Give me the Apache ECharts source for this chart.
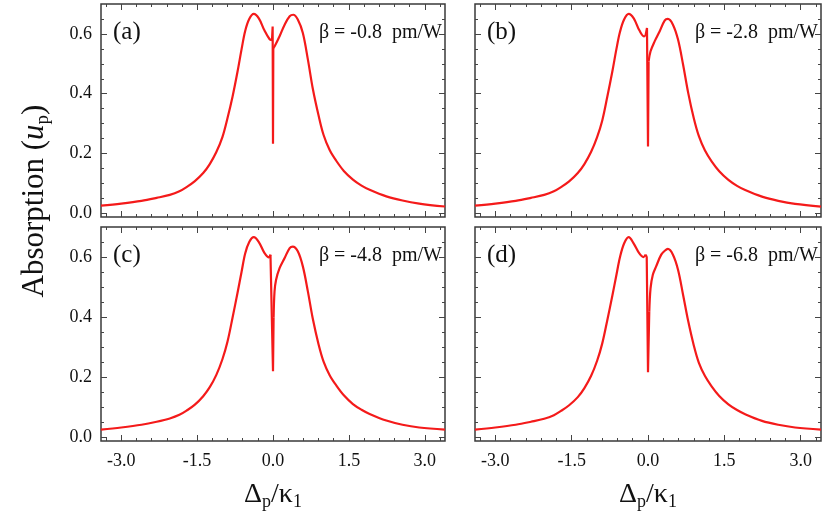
<!DOCTYPE html>
<html>
<head>
<meta charset="utf-8">
<script src="https://cdn.jsdelivr.net/npm/echarts@6/dist/echarts.min.js"></script>
<style>
  html, body { margin: 0; padding: 0; background: #fff; }
  #chart { width: 830px; height: 522px; }
</style>
</head>
<body>
<div id="chart"></div>
<script>
// tick labels
const xTicks = [-3, -1.5, 0, 1.5, 3];
const yTicks = [0, 0.2, 0.4, 0.6];
const xMinor = [-3.3, -2.7, -2.4, -2.1, -1.8, -1.2, -0.9, -0.6, -0.3, 0.3, 0.6, 0.9, 1.2, 1.8, 2.1, 2.4, 2.7, 3.3];
const yMinor = [0.05, 0.1, 0.15, 0.25, 0.3, 0.35, 0.45, 0.5, 0.55, 0.65];

const panelNames = ['(a)', '(b)', '(c)', '(d)'];
const betas = ['β = -0.8  pm/W', 'β = -2.8  pm/W', 'β = -4.8  pm/W', 'β = -6.8  pm/W'];

// (a) beta = -0.8
const xa = [-3.4, -3.0, -2.6, -2.3, -2.04, -1.85, -1.71, -1.55, -1.38, -1.25, -1.12, -1.0, -0.9, -0.8, -0.7, -0.62, -0.55, -0.47, -0.38, -0.28, -0.17, -0.07, -0.02, -0.007, 0, 0.006, 0.03, 0.13, 0.23, 0.33, 0.4, 0.49, 0.59, 0.69, 0.79, 0.9, 1.0, 1.12, 1.25, 1.4, 1.58, 1.75, 1.91, 2.24, 2.56, 2.89, 3.4];
const ya = [0.026, 0.033, 0.042, 0.052, 0.062, 0.074, 0.088, 0.107, 0.135, 0.165, 0.205, 0.255, 0.318, 0.39, 0.475, 0.55, 0.61, 0.65, 0.667, 0.652, 0.612, 0.583, 0.579, 0.625, 0.233, 0.553, 0.558, 0.592, 0.631, 0.659, 0.664, 0.648, 0.603, 0.514, 0.414, 0.328, 0.262, 0.212, 0.176, 0.142, 0.113, 0.093, 0.079, 0.057, 0.043, 0.033, 0.023];

// (b) beta = -2.8
const xb = [-3.4, -3.0, -2.6, -2.3, -2.04, -1.85, -1.71, -1.55, -1.38, -1.25, -1.12, -1.0, -0.9, -0.8, -0.7, -0.62, -0.55, -0.47, -0.38, -0.28, -0.17, -0.08, -0.05, -0.02, 0, 0.012, 0.05, 0.13, 0.23, 0.33, 0.39, 0.49, 0.59, 0.69, 0.79, 0.9, 1.0, 1.12, 1.25, 1.4, 1.58, 1.75, 1.91, 2.24, 2.56, 2.89, 3.4];
const yb = [0.026, 0.033, 0.042, 0.052, 0.062, 0.074, 0.088, 0.107, 0.135, 0.165, 0.205, 0.255, 0.31, 0.39, 0.475, 0.55, 0.607, 0.648, 0.667, 0.652, 0.612, 0.592, 0.593, 0.62, 0.224, 0.508, 0.542, 0.575, 0.609, 0.645, 0.65, 0.631, 0.581, 0.497, 0.403, 0.318, 0.258, 0.21, 0.174, 0.141, 0.112, 0.092, 0.078, 0.056, 0.042, 0.032, 0.023];

// (c) beta = -4.8
const xc = [-3.4, -3.0, -2.6, -2.3, -2.04, -1.85, -1.71, -1.55, -1.38, -1.25, -1.12, -1.0, -0.9, -0.8, -0.7, -0.62, -0.55, -0.47, -0.38, -0.28, -0.17, -0.08, -0.05, -0.02, 0, 0.012, 0.03, 0.06, 0.13, 0.23, 0.33, 0.39, 0.49, 0.59, 0.69, 0.79, 0.9, 1.0, 1.12, 1.25, 1.4, 1.58, 1.75, 1.91, 2.24, 2.56, 2.89, 3.4];
const yc = [0.026, 0.033, 0.042, 0.052, 0.063, 0.075, 0.089, 0.108, 0.137, 0.167, 0.208, 0.26, 0.318, 0.398, 0.482, 0.552, 0.612, 0.65, 0.666, 0.65, 0.614, 0.599, 0.608, 0.613, 0.22, 0.4, 0.485, 0.524, 0.563, 0.597, 0.63, 0.635, 0.619, 0.569, 0.485, 0.392, 0.31, 0.252, 0.207, 0.173, 0.14, 0.111, 0.092, 0.078, 0.056, 0.042, 0.033, 0.026];

// (d) beta = -6.8
const xd = [-3.4, -3.0, -2.6, -2.3, -2.04, -1.85, -1.71, -1.55, -1.38, -1.25, -1.12, -1.0, -0.9, -0.8, -0.7, -0.62, -0.55, -0.47, -0.38, -0.28, -0.17, -0.09, -0.045, -0.025, 0, 0.025, 0.05, 0.095, 0.16, 0.26, 0.33, 0.39, 0.49, 0.59, 0.69, 0.79, 0.9, 1.0, 1.12, 1.25, 1.4, 1.58, 1.75, 1.91, 2.24, 2.56, 2.89, 3.4];
const yd = [0.026, 0.033, 0.042, 0.052, 0.062, 0.074, 0.088, 0.107, 0.134, 0.164, 0.204, 0.255, 0.312, 0.39, 0.472, 0.541, 0.6, 0.645, 0.666, 0.645, 0.612, 0.6, 0.608, 0.6, 0.217, 0.418, 0.496, 0.541, 0.569, 0.608, 0.621, 0.627, 0.608, 0.558, 0.474, 0.387, 0.306, 0.248, 0.204, 0.17, 0.138, 0.11, 0.091, 0.077, 0.055, 0.042, 0.033, 0.026];

const xs = [xa, xb, xc, xd];
const ys = [ya, yb, yc, yd];

const FONT = 'Liberation Serif';
const RED = '#f41a1a';
const grids = [
  { left: 101, top: 4, width: 344, height: 213 },
  { left: 475, top: 4, width: 346, height: 213 },
  { left: 101, top: 227, width: 344, height: 214 },
  { left: 475, top: 227, width: 346, height: 214 }
];

function xAxisDef(gi, pos, ticks, len, labels) {
  return {
    type: 'value', gridIndex: gi, position: pos, min: -3.4, max: 3.4,
    axisLine: { show: false, onZero: false },
    splitLine: { show: false },
    axisTick: { show: true, inside: true, length: len, customValues: ticks, lineStyle: { color: '#444', width: 1 } },
    axisLabel: { show: labels, customValues: xTicks, formatter: v => v.toFixed(1), margin: 11, color: '#111', fontFamily: FONT, fontSize: 18 }
  };
}
function yAxisDef(gi, pos, ticks, len, labels) {
  return {
    type: 'value', gridIndex: gi, position: pos, min: -0.012, max: 0.7,
    axisLine: { show: false, onZero: false },
    splitLine: { show: false },
    axisTick: { show: true, inside: true, length: len, customValues: ticks, lineStyle: { color: '#444', width: 1 } },
    axisLabel: { show: labels, customValues: yTicks, formatter: v => v.toFixed(1), margin: 9, color: '#111', fontFamily: FONT, fontSize: 18 }
  };
}
function lineSeries(xi, yi, pts, smooth) {
  return {
    type: 'line', xAxisIndex: xi, yAxisIndex: yi, data: pts,
    symbol: 'none', smooth: smooth,
    lineStyle: { color: RED, width: 2.2 }, z: 3
  };
}

const xAxes = [], yAxes = [], series = [], graphics = [];
grids.forEach((g, i) => {
  const bottomRow = i >= 2, leftCol = i % 2 === 0;
  const xi = xAxes.length, yi = yAxes.length;
  xAxes.push(xAxisDef(i, 'bottom', xTicks, 6, bottomRow));
  xAxes.push(xAxisDef(i, 'bottom', xMinor, 3, false));
  xAxes.push(xAxisDef(i, 'top', xTicks, 6, false));
  xAxes.push(xAxisDef(i, 'top', xMinor, 3, false));
  yAxes.push(yAxisDef(i, 'left', yTicks, 6, leftCol));
  yAxes.push(yAxisDef(i, 'left', yMinor, 3, false));
  yAxes.push(yAxisDef(i, 'right', yTicks, 6, false));
  yAxes.push(yAxisDef(i, 'right', yMinor, 3, false));

  // smooth broad curve on each side, straight segments through the narrow dip
  const pts = xs[i].map((x, k) => [x, ys[i][k]]);
  const iz = xs[i].indexOf(0);
  series.push(lineSeries(xi, yi, pts.slice(0, iz - 1), 0.35));
  series.push(lineSeries(xi, yi, pts.slice(iz - 2, iz + 2), false));
  series.push(lineSeries(xi, yi, pts.slice(iz + 1), 0.35));

  graphics.push({
    type: 'text', x: g.left + 12, y: g.top + 28,
    style: { text: panelNames[i], fontFamily: FONT, fontSize: 25, fill: '#111', align: 'left', verticalAlign: 'middle' }
  });
  graphics.push({
    type: 'text', x: g.left + g.width - 3, y: g.top + 29,
    style: { text: betas[i], fontFamily: FONT, fontSize: 20, fill: '#111', align: 'right', verticalAlign: 'middle' }
  });
});

// axis titles
[grids[2], grids[3]].forEach(g => {
  graphics.push({
    type: 'text', x: g.left + g.width / 2, y: 495,
    style: {
      text: '{m|Δ}{s|p}{m|/κ}{s|1}',
      align: 'center', verticalAlign: 'middle',
      rich: {
        m: { fontFamily: FONT, fontSize: 28, fill: '#111', lineHeight: 32 },
        s: { fontFamily: FONT, fontSize: 18, fill: '#111', lineHeight: 20, verticalAlign: 'bottom' }
      }
    }
  });
});
graphics.push({
  type: 'text', x: 35, y: 201, rotation: Math.PI / 2,
  style: {
    text: '{m|Absorption (}{i|u}{s|p}{m|)}',
    align: 'center', verticalAlign: 'middle',
    rich: {
      m: { fontFamily: FONT, fontSize: 31, fill: '#111', lineHeight: 36 },
      i: { fontFamily: FONT, fontSize: 31, fontStyle: 'italic', fill: '#111', lineHeight: 36 },
      s: { fontFamily: FONT, fontSize: 19, fill: '#111', lineHeight: 21, verticalAlign: 'bottom' }
    }
  }
});

const chart = echarts.init(document.getElementById('chart'));
chart.setOption({
  animation: false,
  backgroundColor: '#fff',
  grid: grids.map(g => Object.assign({ show: true, borderColor: '#3a3a3a', borderWidth: 1.5, backgroundColor: '#fff', containLabel: false }, g)),
  xAxis: xAxes,
  yAxis: yAxes,
  series: series,
  graphic: graphics
});
</script>
</body>
</html>
